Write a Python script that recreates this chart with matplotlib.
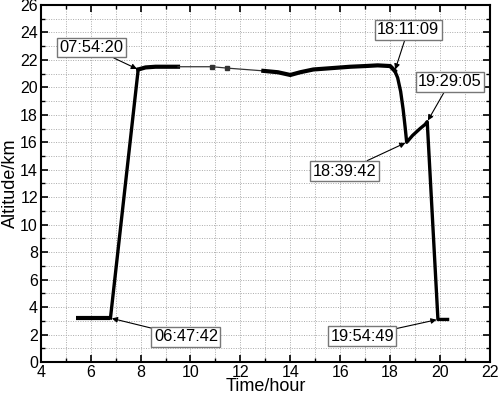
import matplotlib

matplotlib.use("Agg")
import matplotlib.pyplot as plt
from matplotlib.ticker import MultipleLocator

# flight profile (hour, km)
ground_t = [5.40, 6.795]
ground_h = [3.2, 3.2]
climb_t = [6.795, 7.906]
climb_h = [3.2, 21.3]
float1_t = [7.906, 8.2, 8.6, 9.0, 9.5]
float1_h = [21.3, 21.45, 21.5, 21.5, 21.5]
gap_t = [9.5, 10.87, 11.47, 12.92]
gap_h = [21.5, 21.5, 21.4, 21.2]
float2_t = [12.92, 13.5, 14.0, 14.4, 14.92, 16.4, 17.0, 17.5, 18.0, 18.186]
float2_h = [21.2, 21.1, 20.9, 21.1, 21.3, 21.5, 21.55, 21.6, 21.55, 21.2]
descent_t = [18.186, 18.3, 18.42, 18.52, 18.6, 18.662, 18.9, 19.2, 19.4,
             19.485, 19.914, 20.3]
descent_h = [21.2, 20.7, 19.7, 18.4, 17.1, 16.0, 16.5, 17.0, 17.3, 17.5,
             3.1, 3.1]

# annotations: label, point, text position
notes = [
    ("07:54:20", (7.906, 21.3), (6.04, 22.9)),
    ("06:47:42", (6.795, 3.2), (9.82, 1.85)),
    ("18:11:09", (18.186, 21.2), (18.72, 24.2)),
    ("19:29:05", (19.485, 17.5), (20.4, 20.4)),
    ("18:39:42", (18.662, 16.0), (16.18, 13.9)),
    ("19:54:49", (19.914, 3.1), (16.88, 1.89)),
]

plt.rcParams["font.family"] = ["Liberation Sans", "DejaVu Sans"]

fig = plt.figure(figsize=(5.0, 3.95), dpi=100)
ax = fig.add_axes([0.0814, 0.0835, 0.8986, 0.904])

ax.plot(ground_t, ground_h, color="black", lw=3.0, solid_capstyle="butt")
ax.plot(climb_t, climb_h, color="black", lw=2.4)
ax.plot(float1_t, float1_h, color="black", lw=3.0)
ax.plot(gap_t, gap_h, color="#333333", lw=0.9, marker="s", markersize=2.2,
        markevery=[1, 2])
ax.plot(float2_t, float2_h, color="black", lw=3.0)
ax.plot(descent_t, descent_h, color="black", lw=2.4)

for label, xy, xytext in notes:
    ax.annotate(
        label, xy=xy, xytext=xytext, ha="center", va="center", fontsize=11.8,
        bbox=dict(boxstyle="square,pad=0.15", fc="white", ec="#777777", lw=1.0),
        arrowprops=dict(arrowstyle="-|>", color="black", lw=0.8,
                        mutation_scale=8, shrinkA=0, shrinkB=1),
    )

ax.set_xlim(4, 22)
ax.set_ylim(0, 26)
ax.xaxis.set_major_locator(MultipleLocator(2))
ax.xaxis.set_minor_locator(MultipleLocator(1))
ax.yaxis.set_major_locator(MultipleLocator(2))
ax.yaxis.set_minor_locator(MultipleLocator(1))
ax.tick_params(which="both", direction="in", top=True, right=True,
               labelsize=11.5, pad=2)
ax.tick_params(which="major", length=5, width=1.2)
ax.tick_params(which="minor", length=3, width=1.0)
ax.grid(True, which="both", color="#aaaaaa", linestyle=(0, (1, 1.5)), lw=0.7)
ax.set_axisbelow(True)
for sp in ax.spines.values():
    sp.set_linewidth(1.5)

ax.set_xlabel("Time/hour", fontsize=13, labelpad=-1)
ax.set_ylabel("Altitude/km", fontsize=13, labelpad=1)

fig.savefig("out.png", dpi=100)
